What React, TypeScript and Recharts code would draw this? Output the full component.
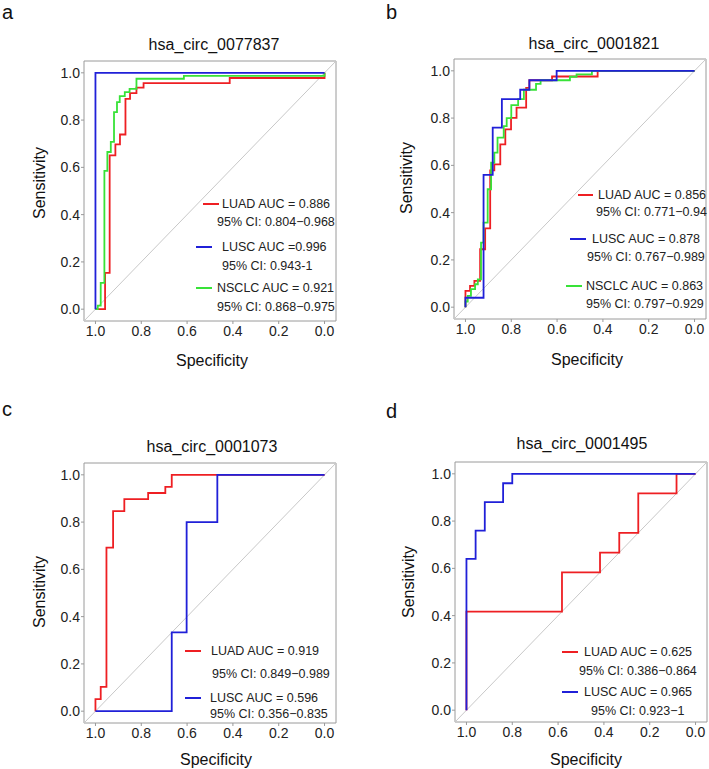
import React from "react";
import {
  LineChart,
  Line,
  XAxis,
  YAxis,
  ReferenceArea,
  ReferenceLine,
} from "recharts";

// ROC vertices (specificity, sensitivity)
const aLuadSpec = [1, 0.958, 0.958, 0.938, 0.938, 0.913, 0.913, 0.893, 0.893, 0.869, 0.869, 0.849, 0.849, 0.821, 0.821, 0.79, 0.79, 0.414, 0.414, 0, 0];
const aLuadSens = [0, 0, 0.154, 0.154, 0.651, 0.651, 0.697, 0.697, 0.739, 0.739, 0.89, 0.89, 0.914, 0.914, 0.937, 0.937, 0.956, 0.956, 0.978, 0.978, 1];
const aLuscSpec = [1, 1, 0];
const aLuscSens = [0, 1, 1];
const aNsclcSpec = [1, 0.99, 0.99, 0.977, 0.977, 0.961, 0.961, 0.948, 0.948, 0.933, 0.933, 0.919, 0.919, 0.906, 0.906, 0.894, 0.894, 0.872, 0.872, 0.851, 0.851, 0.821, 0.821, 0.614, 0.614, 0, 0];
const aNsclcSens = [0, 0, 0.015, 0.015, 0.111, 0.111, 0.585, 0.585, 0.665, 0.665, 0.708, 0.708, 0.834, 0.834, 0.876, 0.876, 0.901, 0.901, 0.918, 0.918, 0.932, 0.932, 0.975, 0.975, 0.987, 0.987, 1];

const bLuadSpec = [1, 1, 0.98, 0.98, 0.961, 0.961, 0.936, 0.936, 0.914, 0.914, 0.892, 0.892, 0.874, 0.874, 0.848, 0.848, 0.826, 0.826, 0.801, 0.801, 0.777, 0.777, 0.735, 0.735, 0.721, 0.721, 0.622, 0.622, 0.423, 0.423, 0];
const bLuadSens = [0, 0.069, 0.069, 0.09, 0.09, 0.111, 0.111, 0.245, 0.245, 0.333, 0.333, 0.579, 0.579, 0.604, 0.604, 0.689, 0.689, 0.752, 0.752, 0.801, 0.801, 0.844, 0.844, 0.928, 0.928, 0.96, 0.96, 0.976, 0.976, 1, 1];
const bLuscSpec = [1, 1, 0.921, 0.921, 0.881, 0.881, 0.841, 0.841, 0.761, 0.761, 0.721, 0.721, 0.602, 0.602, 0];
const bLuscSens = [0, 0.04, 0.04, 0.56, 0.56, 0.76, 0.76, 0.88, 0.88, 0.92, 0.92, 0.96, 0.96, 1, 1];
const bNsclcSpec = [1, 1, 0.99, 0.99, 0.976, 0.976, 0.958, 0.958, 0.946, 0.946, 0.932, 0.932, 0.921, 0.921, 0.903, 0.903, 0.888, 0.888, 0.874, 0.874, 0.86, 0.86, 0.833, 0.833, 0.82, 0.82, 0.8, 0.8, 0.77, 0.77, 0.745, 0.745, 0.692, 0.692, 0.672, 0.672, 0.544, 0.544, 0.515, 0.515, 0.448, 0.448, 0];
const bNsclcSens = [0, 0.024, 0.024, 0.048, 0.048, 0.076, 0.076, 0.097, 0.097, 0.118, 0.118, 0.273, 0.273, 0.358, 0.358, 0.499, 0.499, 0.611, 0.611, 0.654, 0.654, 0.717, 0.717, 0.766, 0.766, 0.8, 0.8, 0.855, 0.855, 0.88, 0.88, 0.92, 0.92, 0.945, 0.945, 0.96, 0.96, 0.975, 0.975, 0.985, 0.985, 1, 1];

const cLuadSpec = [1, 1, 0.977, 0.977, 0.952, 0.952, 0.923, 0.923, 0.874, 0.874, 0.77, 0.77, 0.695, 0.695, 0.667, 0.667, 0];
const cLuadSens = [0, 0.051, 0.051, 0.103, 0.103, 0.692, 0.692, 0.846, 0.846, 0.897, 0.897, 0.923, 0.923, 0.949, 0.949, 1, 1];
const cLuscSpec = [1, 0.667, 0.667, 0.602, 0.602, 0.468, 0.468, 0];
const cLuscSens = [0, 0, 0.333, 0.333, 0.8, 0.8, 1, 1];

const dLuadSpec = [1, 1, 0.583, 0.583, 0.417, 0.417, 0.333, 0.333, 0.25, 0.25, 0.083, 0.083, 0];
const dLuadSens = [0, 0.417, 0.417, 0.583, 0.583, 0.667, 0.667, 0.75, 0.75, 0.917, 0.917, 1, 1];
const dLuscSpec = [1, 1, 0.96, 0.96, 0.92, 0.92, 0.84, 0.84, 0.8, 0.8, 0];
const dLuscSens = [0, 0.64, 0.64, 0.76, 0.76, 0.88, 0.88, 0.96, 0.96, 1, 1];

const specTicks = [1, 0.8, 0.6, 0.4, 0.2, 0];
const sensTicks = [0, 0.2, 0.4, 0.6, 0.8, 1];

const panelLetters = ["a", "b", "c", "d"];
const panelTitles = ["hsa_circ_0077837", "hsa_circ_0001821", "hsa_circ_0001073", "hsa_circ_0001495"];

const aucLabels = [
  ["LUAD AUC = 0.886", "LUSC AUC =0.996", "NSCLC AUC = 0.921"],
  ["LUAD AUC = 0.856", "LUSC AUC = 0.878", "NSCLC AUC = 0.863"],
  ["LUAD AUC = 0.919", "LUSC AUC = 0.596"],
  ["LUAD AUC = 0.625", "LUSC AUC = 0.965"],
];
const ciLabels = [
  ["95% CI: 0.804\u22120.968", "95% CI: 0.943-1", "95% CI: 0.868\u22120.975"],
  ["95% CI: 0.771\u22120.94", "95% CI: 0.767\u22120.989", "95% CI: 0.797\u22120.929"],
  ["95% CI: 0.849\u22120.989", "95% CI: 0.356\u22120.835"],
  ["95% CI: 0.386\u22120.864", "95% CI: 0.923\u22121"],
];

const RED = "#ee1f23";
const BLUE = "#2020d8";
const GREEN = "#38e238";
const FONT = "'Liberation Sans', Arial, sans-serif";

const zip = (spec: number[], sens: number[]) =>
  spec.map((s, i) => ({ spec: s, sens: sens[i] }));

const curves = [
  [
    { pts: zip(aLuadSpec, aLuadSens), color: RED },
    { pts: zip(aNsclcSpec, aNsclcSens), color: GREEN },
    { pts: zip(aLuscSpec, aLuscSens), color: BLUE },
  ],
  [
    { pts: zip(bLuadSpec, bLuadSens), color: RED },
    { pts: zip(bNsclcSpec, bNsclcSens), color: GREEN },
    { pts: zip(bLuscSpec, bLuscSens), color: BLUE },
  ],
  [
    { pts: zip(cLuadSpec, cLuadSens), color: RED },
    { pts: zip(cLuscSpec, cLuscSens), color: BLUE },
  ],
  [
    { pts: zip(dLuadSpec, dLuadSens), color: RED },
    { pts: zip(dLuscSpec, dLuscSens), color: BLUE },
  ],
];
const legendColors = [[RED, BLUE, GREEN], [RED, BLUE, GREEN], [RED, BLUE], [RED, BLUE]];

// layout: plot box per panel, and text anchors
const boxes = [
  { x: 84, y: 61, w: 252, h: 260 },
  { x: 454, y: 59, w: 252, h: 260 },
  { x: 84, y: 463, w: 252, h: 260 },
  { x: 455, y: 462, w: 252, h: 260 },
];
const letterPos = [[2, 19], [386, 19], [2, 416], [386, 418]];
const titlePos = [[214, 44], [594, 43], [212, 446], [582, 443]];
const xTitlePos = [[212, 360], [587, 359], [216, 759], [586, 759]];
const yTitlePos = [[39, 183], [406, 178], [39, 592], [408, 582]];
// [lineX1, lineX2, lineY, textX, ciX, ciY]
const legendPos = [
  [[203, 219, 204, 222, 217, 222], [196, 212, 247, 222, 222, 266], [196, 212, 288, 217, 217, 307]],
  [[578, 593, 195, 598, 596, 212], [570, 586, 239, 592, 587, 257], [566, 582, 286, 586, 586, 304]],
  [[185, 201, 651, 211, 212, 674], [185, 201, 698, 210, 210, 714]],
  [[562, 578, 652, 584, 579, 671], [562, 578, 692, 584, 591, 711]],
];

function RocPanel({ idx }: { idx: number }) {
  const box = boxes[idx];
  const W = box.w + 70;
  const H = box.h + 50;
  const tickStyle = { fill: "#222", fontSize: 14, fontFamily: FONT };
  return (
    <div style={{ position: "absolute", left: box.x - 60, top: box.y - 10 }}>
      <LineChart width={W} height={H} margin={{ top: 10, right: 10, bottom: 0, left: 0 }}>
        <XAxis
          type="number"
          dataKey="spec"
          domain={[-0.05, 1.05]}
          reversed
          allowDataOverflow
          ticks={specTicks}
          interval={0}
          axisLine={false}
          tickLine={{ stroke: "#999" }}
          tickSize={3}
          tickMargin={2}
          height={40}
          tick={tickStyle}
          tickFormatter={(v: number) => v.toFixed(1)}
        />
        <YAxis
          type="number"
          dataKey="sens"
          domain={[-0.05, 1.05]}
          allowDataOverflow
          ticks={sensTicks}
          interval={0}
          axisLine={false}
          tickLine={{ stroke: "#999" }}
          tickSize={3}
          tickMargin={1}
          width={60}
          tick={tickStyle}
          tickFormatter={(v: number) => v.toFixed(1)}
        />
        <ReferenceArea
          x1={-0.05}
          x2={1.05}
          y1={-0.05}
          y2={1.05}
          fill="none"
          stroke="#9a9a9a"
          strokeWidth={1}
        />
        <ReferenceLine
          segment={[{ x: 1.05, y: -0.05 }, { x: -0.05, y: 1.05 }]}
          stroke="#c8c8c8"
          strokeWidth={1}
        />
        {curves[idx].map((c, i) => (
          <Line
            key={i}
            data={c.pts}
            dataKey="sens"
            type="linear"
            stroke={c.color}
            strokeWidth={1.8}
            dot={false}
            activeDot={false}
            isAnimationActive={false}
          />
        ))}
      </LineChart>
    </div>
  );
}

export default function App() {
  return (
    <div
      style={{
        position: "absolute",
        left: 0,
        top: 0,
        width: 709,
        height: 769,
        background: "#fff",
        overflow: "hidden",
      }}
    >
      {[0, 1, 2, 3].map((i) => (
        <RocPanel key={i} idx={i} />
      ))}
      <svg
        width={709}
        height={769}
        style={{ position: "absolute", left: 0, top: 0, pointerEvents: "none" }}
        fontFamily={FONT}
      >
        {panelLetters.map((l, i) => (
          <text key={"l" + i} x={letterPos[i][0]} y={letterPos[i][1]} fontSize={20} fill="#111">
            {l}
          </text>
        ))}
        {panelTitles.map((t, i) => (
          <text key={"t" + i} x={titlePos[i][0]} y={titlePos[i][1]} fontSize={16} fill="#111" textAnchor="middle" dominantBaseline="central">
            {t}
          </text>
        ))}
        {xTitlePos.map((p, i) => (
          <text key={"x" + i} x={p[0]} y={p[1]} fontSize={16} fill="#111" textAnchor="middle" dominantBaseline="central">
            Specificity
          </text>
        ))}
        {yTitlePos.map((p, i) => (
          <text
            key={"y" + i}
            x={p[0]}
            y={p[1]}
            fontSize={16}
            fill="#111"
            textAnchor="middle"
            dominantBaseline="central"
            transform={`rotate(-90 ${p[0]} ${p[1]})`}
          >
            Sensitivity
          </text>
        ))}
        {legendPos.map((entries, i) =>
          entries.map((e, j) => (
            <g key={`g${i}-${j}`}>
              <line x1={e[0]} x2={e[1]} y1={e[2]} y2={e[2]} stroke={legendColors[i][j]} strokeWidth={2} />
              <text x={e[3]} y={e[2]} fontSize={12.5} fill="#222" dominantBaseline="central">
                {aucLabels[i][j]}
              </text>
              <text x={e[4]} y={e[5]} fontSize={12.5} fill="#222" dominantBaseline="central">
                {ciLabels[i][j]}
              </text>
            </g>
          ))
        )}
      </svg>
    </div>
  );
}
